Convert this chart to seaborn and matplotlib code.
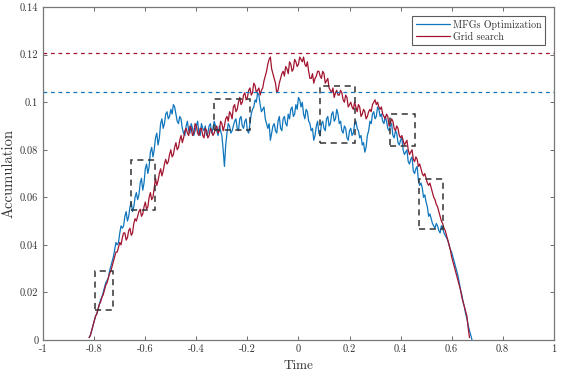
import numpy as np
import pandas as pd
import seaborn as sns
import matplotlib.pyplot as plt
from matplotlib.patches import Rectangle
from matplotlib.ticker import FuncFormatter

# time grid: main samples every 0.01, plus half-step samples in between
time_main = np.round(np.arange(-0.82, 0.6801, 0.01), 2)

mfg = [0.001, 0.004, 0.008, 0.011, 0.015, 0.018, 0.022, 0.025, 0.029, 0.033,
       0.038, 0.040, 0.045, 0.047, 0.052, 0.050, 0.056, 0.054, 0.060, 0.059,
       0.066, 0.063, 0.072, 0.070, 0.079, 0.077, 0.085, 0.082, 0.091, 0.089,
       0.095, 0.093, 0.097, 0.099, 0.095, 0.091, 0.093, 0.087, 0.090, 0.088,
       0.091, 0.086, 0.090, 0.087, 0.091, 0.088, 0.086, 0.090, 0.087, 0.092,
       0.088, 0.090, 0.086, 0.073, 0.087, 0.090, 0.088, 0.092, 0.089, 0.093,
       0.090, 0.092, 0.088, 0.091, 0.097, 0.101, 0.104, 0.099, 0.097, 0.093,
       0.089, 0.084, 0.090, 0.088, 0.092, 0.089, 0.093, 0.091, 0.095, 0.097,
       0.094, 0.099, 0.102, 0.098, 0.095, 0.097, 0.092, 0.088, 0.084, 0.090,
       0.087, 0.091, 0.089, 0.093, 0.090, 0.095, 0.092, 0.097, 0.091, 0.088,
       0.090, 0.085, 0.088, 0.086, 0.091, 0.089, 0.085, 0.082, 0.079, 0.086,
       0.092, 0.095, 0.093, 0.098, 0.094, 0.092, 0.094, 0.089, 0.090, 0.086,
       0.088, 0.083, 0.084, 0.080, 0.079, 0.075, 0.076, 0.071, 0.072, 0.067,
       0.066, 0.060, 0.058, 0.052, 0.051, 0.048, 0.049, 0.046, 0.048, 0.045,
       0.043, 0.040, 0.037, 0.033, 0.029, 0.024, 0.019, 0.014, 0.009, 0.004,
       0.000]
mfg_half = [0.002, 0.006, 0.010, 0.013, 0.017, 0.020, 0.024, 0.026, 0.031, 0.035,
            0.041, 0.041, 0.048, 0.048, 0.054, 0.052, 0.058, 0.056, 0.062, 0.061,
            0.068, 0.066, 0.074, 0.073, 0.081, 0.080, 0.087, 0.085, 0.093, 0.091,
            0.096, 0.094, 0.095, 0.098, 0.092, 0.094, 0.089, 0.086, 0.092, 0.087,
            0.089, 0.088, 0.092, 0.086, 0.089, 0.090, 0.087, 0.091, 0.089, 0.090,
            0.086, 0.088, 0.080, 0.082, 0.091, 0.087, 0.090, 0.093, 0.088, 0.094,
            0.089, 0.093, 0.087, 0.095, 0.098, 0.100, 0.103, 0.096, 0.098, 0.091,
            0.091, 0.087, 0.091, 0.087, 0.094, 0.088, 0.094, 0.090, 0.093, 0.098,
            0.095, 0.097, 0.101, 0.100, 0.093, 0.096, 0.091, 0.089, 0.086, 0.092,
            0.086, 0.092, 0.088, 0.094, 0.091, 0.096, 0.093, 0.095, 0.092, 0.087,
            0.089, 0.084, 0.089, 0.087, 0.092, 0.088, 0.086, 0.083, 0.081, 0.088,
            0.091, 0.096, 0.094, 0.097, 0.095, 0.091, 0.092, 0.088, 0.091, 0.085,
            0.087, 0.082, 0.085, 0.078, 0.080, 0.074, 0.077, 0.070, 0.073, 0.065,
            0.064, 0.061, 0.056, 0.053, 0.049, 0.047, 0.048, 0.045, 0.047, 0.044,
            0.042, 0.038, 0.035, 0.031, 0.027, 0.021, 0.016, 0.011, 0.006, 0.002]

grid = [0.001, 0.004, 0.008, 0.011, 0.015, 0.018, 0.021, 0.024, 0.028, 0.031,
        0.035, 0.037, 0.041, 0.043, 0.045, 0.043, 0.047, 0.045, 0.051, 0.052,
        0.055, 0.053, 0.058, 0.056, 0.062, 0.060, 0.068, 0.067, 0.072, 0.071,
        0.076, 0.075, 0.080, 0.078, 0.083, 0.081, 0.086, 0.085, 0.089, 0.086,
        0.089, 0.087, 0.090, 0.086, 0.089, 0.085, 0.088, 0.086, 0.088, 0.087,
        0.090, 0.088, 0.091, 0.090, 0.094, 0.096, 0.093, 0.099, 0.097, 0.102,
        0.100, 0.104, 0.102, 0.106, 0.104, 0.107, 0.105, 0.103, 0.106, 0.111,
        0.116, 0.119, 0.112, 0.108, 0.105, 0.110, 0.113, 0.115, 0.112, 0.116,
        0.114, 0.117, 0.116, 0.118, 0.119, 0.115, 0.113, 0.110, 0.108, 0.111,
        0.113, 0.110, 0.112, 0.109, 0.106, 0.104, 0.102, 0.105, 0.103, 0.104,
        0.100, 0.102, 0.099, 0.098, 0.100, 0.096, 0.098, 0.095, 0.096, 0.094,
        0.097, 0.099, 0.101, 0.100, 0.097, 0.095, 0.093, 0.094, 0.091, 0.092,
        0.088, 0.089, 0.085, 0.084, 0.083, 0.080, 0.079, 0.076, 0.077, 0.073,
        0.072, 0.069, 0.068, 0.065, 0.064, 0.060, 0.057, 0.054, 0.050, 0.047,
        0.044, 0.040, 0.035, 0.031, 0.027, 0.023, 0.018, 0.014, 0.010, 0.001,
        np.nan]
grid_half = [0.002, 0.006, 0.010, 0.013, 0.016, 0.019, 0.023, 0.026, 0.029, 0.033,
             0.037, 0.039, 0.040, 0.045, 0.042, 0.046, 0.044, 0.049, 0.050, 0.054,
             0.052, 0.056, 0.055, 0.060, 0.059, 0.064, 0.065, 0.070, 0.069, 0.074,
             0.074, 0.078, 0.077, 0.081, 0.080, 0.084, 0.083, 0.088, 0.087, 0.090,
             0.086, 0.091, 0.087, 0.089, 0.086, 0.089, 0.085, 0.089, 0.086, 0.089,
             0.087, 0.092, 0.088, 0.093, 0.092, 0.095, 0.098, 0.096, 0.100, 0.099,
             0.103, 0.101, 0.105, 0.103, 0.108, 0.104, 0.106, 0.105, 0.109, 0.113,
             0.118, 0.114, 0.110, 0.104, 0.108, 0.112, 0.111, 0.114, 0.117, 0.113,
             0.118, 0.115, 0.119, 0.117, 0.116, 0.117, 0.110, 0.112, 0.110, 0.113,
             0.111, 0.113, 0.108, 0.110, 0.105, 0.106, 0.104, 0.103, 0.105, 0.101,
             0.103, 0.098, 0.100, 0.097, 0.098, 0.099, 0.094, 0.097, 0.093, 0.096,
             0.096, 0.100, 0.099, 0.098, 0.098, 0.094, 0.095, 0.090, 0.093, 0.089,
             0.090, 0.086, 0.086, 0.082, 0.084, 0.078, 0.080, 0.075, 0.076, 0.074,
             0.070, 0.070, 0.066, 0.066, 0.062, 0.059, 0.056, 0.052, 0.049, 0.046,
             0.042, 0.038, 0.033, 0.029, 0.025, 0.021, 0.016, 0.012, 0.005, np.nan]

series_names = ['MFGs Optimization', 'Grid search']
series_colors = ['#0f76bd', '#A2142F']

# max levels of each method
max_mfg = 0.1042
max_grid = 0.1205

# highlighted windows: (t0, t1, y0, y1)
boxes = [(-0.796, -0.725, 0.0126, 0.029),
         (-0.656, -0.562, 0.0546, 0.0757),
         (-0.331, -0.190, 0.0883, 0.1013),
         (0.084, 0.221, 0.0828, 0.1070),
         (0.358, 0.456, 0.0815, 0.0950),
         (0.472, 0.566, 0.0467, 0.0677)]

xticks = [-1, -0.8, -0.6, -0.4, -0.2, 0, 0.2, 0.4, 0.6, 0.8, 1]
yticks = [0, 0.02, 0.04, 0.06, 0.08, 0.1, 0.12, 0.14]


def interleave(main, half):
    out = np.empty(len(main) + len(half))
    out[0::2] = main
    out[1::2] = half
    return out


time = interleave(time_main, time_main[:-1] + 0.005)
df = pd.DataFrame({'Time': np.concatenate([time, time]),
                   'Accumulation': np.concatenate([interleave(mfg, mfg_half),
                                                   interleave(grid, grid_half)]),
                   'method': [series_names[0]] * len(time) + [series_names[1]] * len(time)})

sns.set_style('ticks')
plt.rcParams['font.family'] = ['cmr10', 'DejaVu Serif']
plt.rcParams['axes.unicode_minus'] = False
plt.rcParams['mathtext.fontset'] = 'cm'

fig = plt.figure(figsize=(5.61, 3.74), dpi=100, facecolor='white')
ax = fig.add_axes([0.077, 0.091, 0.910, 0.890])

sns.lineplot(data=df, x='Time', y='Accumulation', hue='method',
             palette=series_colors, linewidth=0.9, ax=ax, sort=False)

ax.axhline(max_grid, color=series_colors[1], ls=(0, (3, 3)), lw=0.9)
ax.axhline(max_mfg, color=series_colors[0], ls=(0, (3, 3)), lw=0.9)

for t0, t1, y0, y1 in boxes:
    ax.add_patch(Rectangle((t0, y0), t1 - t0, y1 - y0, fill=False,
                           edgecolor='#333333', ls=(0, (4, 3)), lw=1.1, zorder=5))

ax.set_xlim(-1, 1)
ax.set_ylim(0, 0.14)
ax.set_xticks(xticks)
ax.set_yticks(yticks)
fmt = FuncFormatter(lambda v, p: '%g' % v)
ax.xaxis.set_major_formatter(fmt)
ax.yaxis.set_major_formatter(fmt)
ax.tick_params(direction='in', top=True, right=True, length=3, width=0.6,
               colors='#555555', labelsize=7.5, labelcolor='#333333')
for s in ax.spines.values():
    s.set_color('#777777')
    s.set_linewidth(0.9)

ax.set_xlabel('Time', fontsize=9.5, color='#333333', labelpad=4)
ax.set_ylabel('Accumulation', fontsize=10.5, color='#333333', labelpad=3)

leg = ax.legend(loc='upper right', fontsize=7.2, frameon=True, fancybox=False,
                edgecolor='#333333', handlelength=3.4, borderpad=0.35,
                labelspacing=0.25, handletextpad=0.3, borderaxespad=0.9)
leg.get_frame().set_linewidth(0.8)
for t in leg.get_texts():
    t.set_color('#333333')

fig.savefig('out.png', dpi=100, facecolor='white')
